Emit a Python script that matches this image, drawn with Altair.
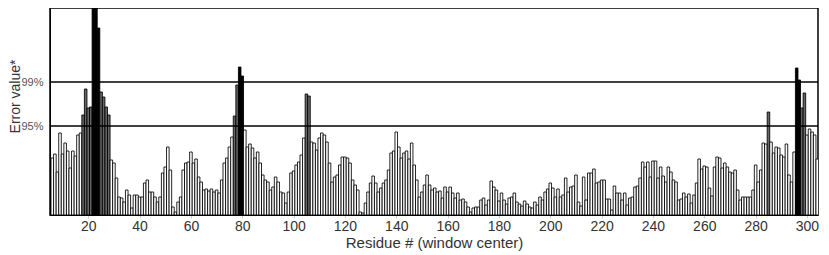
import altair as alt
import pandas as pd

# ---- data (bar heights in axis units; first bar = residue 6)
first_residue = 6
error_values = [
    57, 61, 43, 82, 61, 72, 64, 47, 64, 59,
    80, 82, 100, 126, 107, 108, 207, 207, 187, 123,
    118, 108, 100, 55, 52, 37, 18, 17, 13, 25,
    20, 7, 20, 20, 18, 18, 32, 35, 23, 23,
    18, 13, 18, 42, 48, 68, 45, 8, 3, 13,
    18, 45, 52, 53, 63, 52, 56, 38, 33, 25,
    26, 24, 26, 23, 25, 22, 35, 52, 57, 68,
    78, 99, 130, 148, 139, 85, 68, 71, 67, 57,
    63, 52, 40, 35, 33, 25, 28, 38, 33, 23,
    22, 12, 23, 42, 44, 50, 53, 60, 77, 121,
    119, 73, 72, 65, 77, 82, 80, 73, 52, 33,
    38, 40, 50, 58, 58, 57, 52, 35, 30, 25,
    3, 2, 12, 23, 32, 39, 32, 23, 27, 32,
    35, 45, 62, 64, 83, 68, 57, 62, 64, 56,
    72, 50, 35, 18, 23, 30, 40, 30, 25, 27,
    23, 24, 17, 28, 23, 28, 22, 17, 22, 15,
    16, 13, 8, 3, 7, 8, 8, 15, 17, 10,
    15, 34, 28, 25, 14, 22, 15, 11, 17, 18,
    22, 13, 11, 9, 14, 11, 8, 7, 13, 10,
    18, 15, 23, 26, 32, 27, 18, 26, 18, 20,
    37, 23, 28, 29, 40, 13, 9, 38, 15, 42,
    42, 46, 32, 33, 35, 35, 16, 16, 5, 29,
    22, 22, 15, 22, 10, 17, 18, 28, 29, 37,
    53, 48, 53, 38, 54, 54, 37, 48, 39, 33,
    48, 43, 35, 33, 15, 16, 22, 18, 21, 12,
    20, 32, 56, 46, 49, 48, 27, 19, 48, 58,
    57, 47, 52, 48, 43, 42, 45, 25, 15, 18,
    18, 18, 18, 25, 50, 33, 45, 72, 71, 103,
    73, 62, 68, 67, 60, 58, 71, 40, 33, 63,
    147, 135, 107, 122, 80, 86, 83, 80, 56,
]
residues = list(range(first_residue, first_residue + len(error_values)))

threshold_values = [89, 133]
threshold_labels = ["95%", "99%"]
x_label_values = list(range(20, 301, 20))
x_domain = [5.1, 304.3]
y_domain = [0, 207]

FONT = "Liberation Sans, Arial, sans-serif"

df = pd.DataFrame({"residue": residues, "error": error_values})
df_thr = pd.DataFrame({"t": threshold_values, "label": threshold_labels})

level_expr = (
    f"datum.error > {threshold_values[1]} ? 'p99' : "
    f"(datum.error > {threshold_values[0]} ? 'p95' : 'base')"
)
y_label_expr = (
    f"datum.value == {threshold_values[0]} ? '{threshold_labels[0]}' : "
    f"(datum.value == {threshold_values[1]} ? '{threshold_labels[1]}' : '')"
)

x_scale = alt.Scale(domain=x_domain, nice=False, zero=False)
y_scale = alt.Scale(domain=y_domain, nice=False)

bars = (
    alt.Chart(df)
    .transform_calculate(x0="datum.residue - 0.5", x1="datum.residue + 0.5", level=level_expr)
    .mark_bar(stroke="black", strokeWidth=0.85, clip=True)
    .encode(
        x=alt.X(
            "x0:Q",
            scale=x_scale,
            title="Residue # (window center)",
            axis=alt.Axis(
                values=x_label_values,
                tickColor="#cccccc",
                tickSize=3,
                labelPadding=1,
                labelFontSize=14,
                labelColor="#333333",
                titleFontSize=15,
                titlePadding=2,
                grid=False,
            ),
        ),
        x2="x1:Q",
        y=alt.Y(
            "error:Q",
            scale=y_scale,
            title="Error value*",
            axis=alt.Axis(
                values=threshold_values,
                labelExpr=y_label_expr,
                ticks=False,
                labelPadding=7,
                labelFontSize=11,
                labelColor="#555555",
                titleFontSize=14,
                titleX=-28,
                titleY=88,
                titleAlign="center",
                titleBaseline="bottom",
                grid=False,
            ),
        ),
        y2=alt.datum(0),
        fill=alt.Fill(
            "level:N",
            scale=alt.Scale(domain=["base", "p95", "p99"], range=["#ffffff", "#666666", "#000000"]),
            legend=None,
        ),
    )
)

rules = (
    alt.Chart(df_thr)
    .mark_rule(color="black", strokeWidth=1.5)
    .encode(y=alt.Y("t:Q", scale=y_scale))
)

chart = (
    alt.layer(bars, rules)
    .properties(
        width=768,
        height=207,
        padding={"left": 42, "top": 0, "right": 3, "bottom": 40},
        autosize=alt.AutoSizeParams(type="none"),
    )
    .configure_view(stroke="black", strokeWidth=1.5)
    .configure_axis(
        labelFont=FONT,
        titleFont=FONT,
        titleFontWeight="normal",
        titleColor="#333333",
        domainColor="black",
        domainWidth=1,
    )
)

chart.save("out.html", embed_options={"renderer": "svg", "actions": False})
